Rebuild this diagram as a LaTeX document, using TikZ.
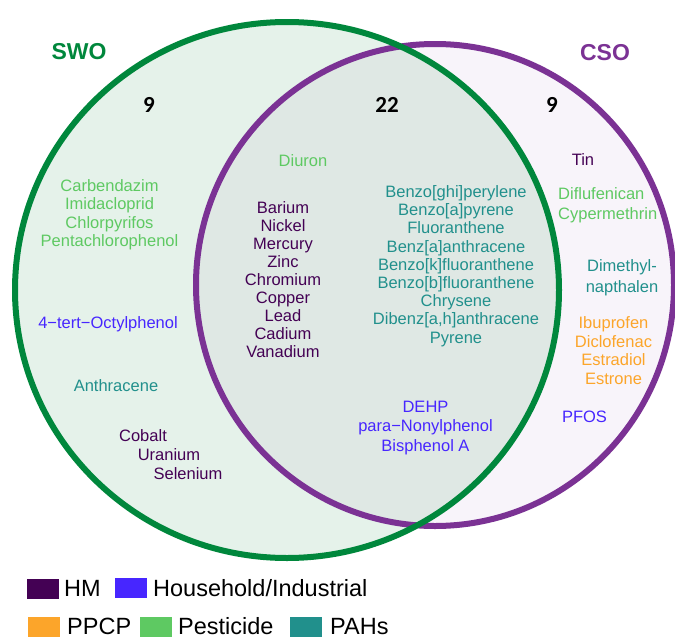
\documentclass[tikz,border=0pt]{standalone}
\usepackage{fontspec}
\setmainfont{Liberation Sans}
\newfontfamily\numfont{Carlito}
\definecolor{swo}{HTML}{00873C}
\definecolor{cso}{HTML}{7B3294}
\definecolor{hm}{HTML}{440154}
\definecolor{hh}{HTML}{4726FF}
\definecolor{ppcp}{HTML}{FCA52A}
\definecolor{pest}{HTML}{5EC962}
\definecolor{pah}{HTML}{21908C}
\definecolor{swofill}{HTML}{E5F2EA}
\definecolor{csofill}{HTML}{F8F4FA}
\definecolor{bothfill}{HTML}{DFE8E4}
\tikzset{
  lbl/.style={font=\fontsize{16.5}{18.2}\selectfont, inner sep=0pt, align=center, anchor=base},
  setname/.style={font=\fontsize{23}{26}\selectfont\bfseries, inner sep=0pt, anchor=base},
  count/.style={font=\fontsize{23}{26}\selectfont\numfont\bfseries, inner sep=0pt, anchor=base},
  legbox/.style={inner sep=0pt, minimum width=32pt, minimum height=20pt},
  legtxt/.style={font=\fontsize{23.5}{26}\selectfont, inner sep=0pt, anchor=base west},
}
\begin{document}
\begin{tikzpicture}[x=1pt,y=-1pt]
\useasboundingbox (0,0) rectangle (675,637);
% circles
\fill[swofill] (287,290) ellipse [x radius=272pt, y radius=268pt];
\fill[csofill] (435,285) ellipse [x radius=239pt, y radius=241pt];
\begin{scope}
  \clip (287,290) ellipse [x radius=272pt, y radius=268pt];
  \fill[bothfill] (435,285) ellipse [x radius=239pt, y radius=241pt];
\end{scope}
\draw[cso, line width=6pt] (435,285) ellipse [x radius=239pt, y radius=241pt];
\draw[swo, line width=6pt] (287,290) ellipse [x radius=272pt, y radius=268pt];
% set names and counts
\node[setname, text=swo] (swoname) at (79,59) {SWO};
\node[setname, text=cso] (csoname) at (605,60) {CSO};
\node[count] (n1) at (149,112.5) {9};
\node[count] (n2) at (387,112.5) {22};
\node[count] (n3) at (552,112.5) {9};
% SWO only (anchor=base of a multi-line node is the last line's baseline)
\node[lbl, text=pest] (pestL) at (109.5,246.3) {Carbendazim\\Imidacloprid\\Chlorpyrifos\\Pentachlorophenol};
\node[lbl, text=hh] (octyl) at (108,328.7) {4−tert−Octylphenol};
\node[lbl, text=pah] (anth) at (116,391) {Anthracene};
\node[lbl, text=hm] (cobalt) at (143,441.7) {Cobalt};
\node[lbl, text=hm] (uranium) at (169,460.3) {Uranium};
\node[lbl, text=hm] (selenium) at (188,479.3) {Selenium};
% both
\node[lbl, text=pest] (diuron) at (303,166) {Diuron};
\node[lbl, text=hm, font=\fontsize{16.5}{18}\selectfont] (hmC) at (283,357.3) {Barium\\Nickel\\Mercury\\Zinc\\Chromium\\Copper\\Lead\\Cadium\\Vanadium};
\node[lbl, text=pah] (pahC) at (456,343) {Benzo[ghi]perylene\\Benzo[a]pyrene\\Fluoranthene\\Benz[a]anthracene\\Benzo[k]fluoranthene\\Benzo[b]fluoranthene\\Chrysene\\Dibenz[a,h]anthracene\\Pyrene};
\node[lbl, text=hh, font=\fontsize{16.5}{19.2}\selectfont] (hhC) at (425.5,451.1) {DEHP\\para−Nonylphenol\\Bisphenol A};
% CSO only
\node[lbl, text=hm] (tin) at (583,165) {Tin};
\node[lbl, text=pest, align=left, anchor=base west, font=\fontsize{16.5}{20}\selectfont] (pestR) at (558,219.3) {Diflufenican\\Cypermethrin};
\node[lbl, text=pah, font=\fontsize{16.5}{21}\selectfont] (dimeth) at (622,292) {Dimethyl-\\napthalen};
\node[lbl, text=ppcp, font=\fontsize{16.5}{18.7}\selectfont] (ppcpR) at (613.5,384.4) {Ibuprofen\\Diclofenac\\Estradiol\\Estrone};
\node[lbl, text=hh] (pfos) at (584.5,422.7) {PFOS};
% legend
\node[legbox, fill=hm] (kHM) at (43,589) {};
\node[legtxt] (tHM) at (64,596) {HM};
\node[legbox, fill=hh] (kHH) at (131,588) {};
\node[legtxt] (tHH) at (153,596) {Household/Industrial};
\node[legbox, fill=ppcp] (kPP) at (44,627) {};
\node[legtxt] (tPP) at (67,634) {PPCP};
\node[legbox, fill=pest] (kPE) at (156,627) {};
\node[legtxt] (tPE) at (178,634) {Pesticide};
\node[legbox, fill=pah] (kPA) at (306,627) {};
\node[legtxt] (tPA) at (330,634) {PAHs};
\end{tikzpicture}
\end{document}
